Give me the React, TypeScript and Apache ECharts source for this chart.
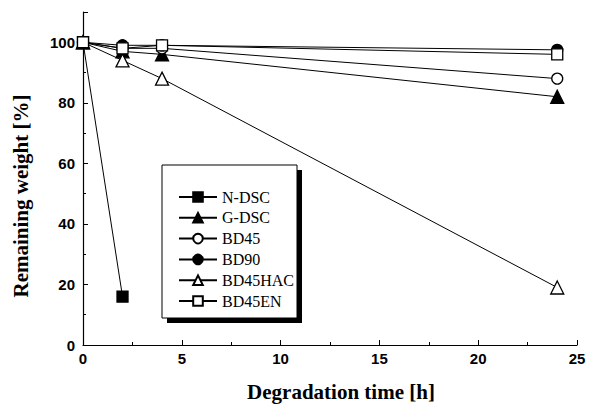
import React, { useEffect, useRef } from "react";
import * as echarts from "echarts";

const times = [0, 2, 4, 24];
const nDSC = [100, 16];
const gDSC = [100, 97, 96, 82];
const bd45 = [100, 98, 98, 88];
const bd90 = [100, 99, 99, 97.5];
const bd45HAC = [100, 94, 88, 19];
const bd45EN = [100, 98, 99, 96];
const xTicks = [0, 5, 10, 15, 20, 25];
const yTicks = [0, 20, 40, 60, 80, 100];
const yTickMarks = [0, 20, 40, 60, 80, 100, 110];

const seriesDefs = [
  { name: "N-DSC", data: nDSC, symbol: "rect", filled: true },
  { name: "G-DSC", data: gDSC, symbol: "triangle", filled: true },
  { name: "BD45", data: bd45, symbol: "circle", filled: false },
  { name: "BD90", data: bd90, symbol: "circle", filled: true },
  { name: "BD45HAC", data: bd45HAC, symbol: "triangle", filled: false },
  { name: "BD45EN", data: bd45EN, symbol: "rect", filled: false },
];

export default function App() {
  const ref = useRef<HTMLDivElement>(null);
  useEffect(() => {
    const chart = echarts.init(ref.current!, null, { renderer: "svg" });
    const series = seriesDefs.map((s) => ({
      name: s.name,
      type: "line",
      data: s.data.map((v, i) => [times[i], v]),
      symbol: s.symbol,
      symbolSize: s.symbol === "triangle" ? 13 : 11,
      showAllSymbol: true,
      lineStyle: { color: "#000", width: 1 },
      itemStyle: {
        color: s.filled ? "#000" : "#fff",
        borderColor: "#000",
        borderWidth: 1.3,
      },
      emphasis: { disabled: true },
      z: 3,
    }));
    chart.setOption({
      animation: false,
      backgroundColor: "#fff",
      grid: { left: 75, right: 22, top: 4, bottom: 63, containLabel: false, outerBoundsMode: "none" },
      xAxis: {
        type: "value",
        min: 0,
        max: 25,
        interval: 5,
        name: "Degradation time [h]",
        nameLocation: "middle",
        nameGap: 36,
        nameTextStyle: {
          fontFamily: "Liberation Serif",
          fontWeight: "bold",
          fontSize: 21,
          color: "#000",
          padding: [0, 0, 0, 22],
        },
        axisLine: { lineStyle: { color: "#000", width: 1.2 } },
        axisTick: { inside: true, length: 5, lineStyle: { color: "#000" }, customValues: xTicks },
        minorTick: { show: true, splitNumber: 2, length: 3, lineStyle: { color: "#000" } },
        axisLabel: {
          customValues: xTicks,
          fontFamily: "Liberation Sans",
          fontWeight: "bold",
          fontSize: 15,
          color: "#000",
          margin: 6,
        },
        splitLine: { show: false },
      },
      yAxis: {
        type: "value",
        min: 0,
        max: 110,
        interval: 20,
        name: "Remaining weight [%]",
        nameLocation: "middle",
        nameGap: 52,
        nameTextStyle: {
          fontFamily: "Liberation Serif",
          fontWeight: "bold",
          fontSize: 21,
          color: "#000",
          padding: [0, 35, 0, 0],
        },
        axisLine: { lineStyle: { color: "#000", width: 1.2 } },
        axisTick: { inside: true, length: 5, lineStyle: { color: "#000" }, customValues: yTickMarks },
        minorTick: { show: true, splitNumber: 2, length: 3, lineStyle: { color: "#000" } },
        axisLabel: {
          customValues: yTicks,
          fontFamily: "Liberation Sans",
          fontWeight: "bold",
          fontSize: 15,
          color: "#000",
          margin: 8,
        },
        splitLine: { show: false },
      },
      graphic: [
        { type: "rect", shape: { x: 159, y: 162, width: 135, height: 153 }, style: { fill: "#000" }, z: 1 },
        { type: "rect", shape: { x: 154, y: 157, width: 135, height: 153 }, style: { fill: "#fff", stroke: "#000", lineWidth: 1 }, z: 2 },
      ],
      legend: {
        orient: "vertical",
        left: 165,
        top: 176,
        itemWidth: 38,
        itemHeight: 12,
        itemGap: 4.8,
        z: 10,
        selectedMode: false,
        textStyle: { fontFamily: "Liberation Serif", fontSize: 16, lineHeight: 16, color: "#000" },
        data: seriesDefs.map((s) => s.name),
      },
      series,
    });
    return () => chart.dispose();
  }, []);
  return <div ref={ref} style={{ width: 591, height: 400 }} />;
}
